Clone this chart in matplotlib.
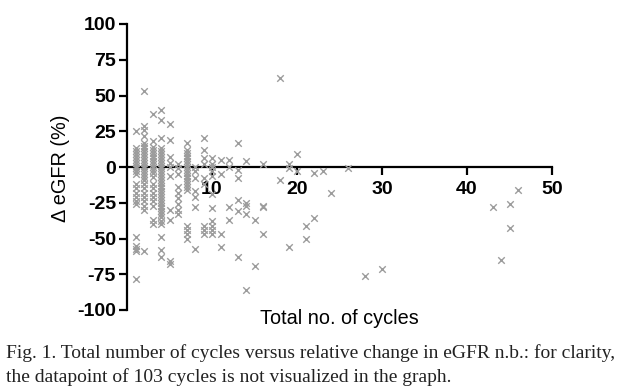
import matplotlib
matplotlib.use("Agg")
import matplotlib.pyplot as plt

plt.rcParams["axes.unicode_minus"] = False

# ---- data ----
# one list of delta-eGFR values (%) per number of cycles 1..16
col1 = [25, 13, 11, 9, 7, 5, 3, 1, -1, -3, -5, -12, -15, -18, -21, -24, -26,
        -49, -55, -57, -59, -78]
col2 = [53, 29, 26, 22, 17, 15, 13, 11, 9, 7, 5, 3, 1, -1, -3, -5, -7, -9,
        -12, -15, -18, -21, -24, -27, -30, -59]
col3 = [37, 18, 14, 12, 10, 8, 6, 4, 2, 0, -2, -4, -7, -12, -15, -18, -21,
        -24, -27, -37, -40]
col4 = [40, 33, 20, 13, 11, 9, 7, 5, 3, 1, -1, -3, -5, -7, -9, -11, -13, -15,
        -17, -19, -21, -23, -25, -27, -29, -31, -33, -35, -38, -40, -49, -58, -63]
col5 = [30, 19, 7, 3, 0, -6, -30, -37, -66, -68]
col6 = [2, -1, -5, -14, -18, -22, -26, -30, -33]
col7 = [17, 12, 10, 8, 6, 4, 2, 0, -2, -4, -6, -8, -10, -12, -14, -16,
        -41, -44, -47, -50]
col8 = [0, -3, -8, -17, -21, -28, -57]
col9 = [20, 12, 6, 2, -8, -12, -41, -44, -47]
col10 = [6, 2, 0, -3, -6, -19, -29, -38, -41, -44, -47]
col11 = [5, -5, -47, -56]
col12 = [5, 0, -28, -37]
col13 = [17, -2, -8, -23, -31, -63]
col14 = [4, -25, -27, -33, -86]
col15 = [-37, -69]
col16 = [2, -27, -28, -47]
columns = [col1, col2, col3, col4, col5, col6, col7, col8,
           col9, col10, col11, col12, col13, col14, col15, col16]
column_cycles = list(range(1, 17))

sparse_cycles = [18, 18, 19, 19, 19, 20, 20, 21, 21, 22, 22, 23, 24, 26,
                 28, 30, 43, 44, 45, 45, 46]
sparse_delta = [62, -9, 2, -1, -56, 9, -3, -41, -50, -4, -36, -3, -18, -1,
                -76, -71, -28, -65, -26, -43, -16]

x_ticks = [10, 20, 30, 40, 50]
y_ticks = [-100, -75, -50, -25, 0, 25, 50, 75, 100]

caption = ("Fig. 1. Total number of cycles versus relative change in eGFR n.b.: for clarity,\n"
           "the datapoint of 103 cycles is not visualized in the graph.")

# ---- build point lists ----
xs, ys = [], []
for c, vals in zip(column_cycles, columns):
    xs.extend([c] * len(vals))
    ys.extend(vals)
xs.extend(sparse_cycles)
ys.extend(sparse_delta)

W, H = 619, 391
fig = plt.figure(figsize=(W / 100, H / 100), dpi=100)
ax = fig.add_axes([127 / W, 1 - 310 / H, (552 - 127) / W, (310 - 24) / H])

ax.scatter(xs, ys, marker="x", s=22, linewidths=1.0, color="#9c9c9c", zorder=3)

ax.set_xlim(0, 50)
ax.set_ylim(-100, 100)
ax.spines["top"].set_visible(False)
ax.spines["right"].set_visible(False)
ax.spines["bottom"].set_position(("data", 0))
ax.spines["bottom"].set_linewidth(1.6)
ax.spines["left"].set_linewidth(1.6)
ax.spines["bottom"].set_zorder(2)

ax.set_xticks(x_ticks)
ax.set_yticks(y_ticks)
ax.tick_params(axis="both", direction="out", width=1.6, length=6)
ax.tick_params(axis="x", pad=4)
ax.tick_params(axis="y", pad=2)
for lab in ax.get_xticklabels() + ax.get_yticklabels():
    lab.set_fontfamily("Liberation Sans")
    lab.set_fontweight("bold")
    lab.set_fontsize(14)

fig.text(339 / W, 1 - 318 / H, "Total no. of cycles", ha="center", va="center",
         fontsize=14.3, family="Liberation Sans")
fig.text(61 / W, 1 - 168 / H, "Δ eGFR (%)", ha="center", va="center",
         rotation=90, fontsize=14.3, family="Liberation Sans")

fig.text(6 / W, 1 - 344 / H, caption, ha="left", va="top",
         fontsize=14, family="Liberation Serif", linespacing=1.45, color="#222222")

fig.savefig("out.png", dpi=100)
